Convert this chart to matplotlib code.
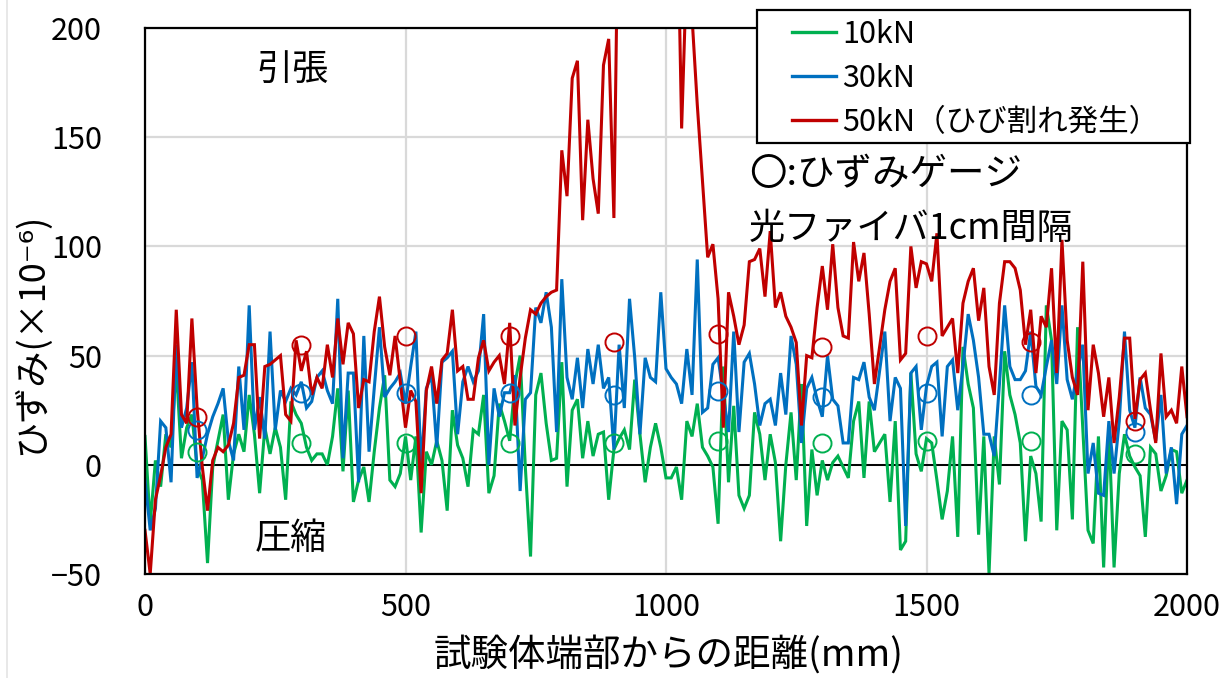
import matplotlib
matplotlib.use("Agg")
import matplotlib.pyplot as plt
from matplotlib.lines import Line2D
from matplotlib.patches import Rectangle

plt.rcParams['font.family'] = ['Noto Sans CJK JP', 'DejaVu Sans']

# Distance from specimen end, 1 cm fibre pitch
distance_mm = list(range(0, 2001, 10))

strain_10kN = [
    13, -27, 2, -10, 14, 8, 45, 3, 17, 23, -1, -7, -45, -1, 11, 23, -16, 5, 14, 6,
    32, 14, -13, 17, 5, 17, 8, -16, 29, 23, 19, 8, 2, 5,
    5, 0, 13, 35, -3, 34, -17, -7, -1, -17, 6, 26, 41, -7, -10, -4, 13, -7, 13, -31,
    6, 0, 11, 2, -21, 25, 9, 3, -10, 16, 14, 32, -13, -5,
    28, 20, 11, 37, 50, -1, -42, 32, 42, 19, 2, 3, 47, -10, 25, 30, 3, 20, 4, 14,
    15, -16, 7, 12, 16, 7, 39, 14, -8, 8, 19, 8, -6,
    -6, -1, -16, 20, 13, 28, 8, 4, -1, -27, 45, -8, 27, -14, -20, -14, 24, 14, -7, 14,
    1, -35, 0, 24, -7, 37, -28, 7, -14, 2, -7, 1, 4, -1,
    -6, 20, 29, -6, 29, 6, 10, 14, -17, 20, -39, -35, 42, 5, -3, 12, 10, -7, -25, -12,
    13, -33, 54, 37, 26, -32, 13, -50, 13, -9, 52, 32, 23,
    10, -35, 4, -4, -26, 73, 57, -30, 20, 16, -25, 63, 16, -30, -36, 13, -47, 17, -47, -4,
    14, 4, -1, -5, -33, 8, 5, -12, -5, 7, 6, -13, -7,
]

strain_30kN = [
    -7, -30, -20, 20, 17, -8, 55, 17, 26, 47, -6, 3, 14, 22, 28, 35, 11, 2, 45, 16,
    73, 16, 31, 12, 61, 16, 34, 29, 35, 32, 38, 26, 29, 40,
    43, 34, 28, 76, 3, 42, 42, -8, 59, 6, 35, 63, 31, 35, 38, 42, 28, 45, 61, -1,
    35, 41, 8, 47, 49, 52, 14, 38, 45, 38, 43, 69, 0, 35,
    22, 33, 33, 41, -12, 30, 33, 72, 65, 79, 63, 15, 85, 40, 30, 49, 26, 53, 37, 55,
    35, 40, 7, 55, 26, 76, 49, 14, 49, 40, 38, 79, 44,
    40, 37, 28, 53, 32, 94, 24, 26, 46, 49, 32, 15, 61, 15, 47, 51, 37, 18, 28, 30,
    18, 42, 23, 59, 46, 10, 35, 40, 30, 22, 50, 30, 27, 10,
    10, 40, 39, 47, 31, 25, 43, 61, 20, 40, 35, -28, 42, 45, 16, 36, 45, 47, 13, 45,
    48, 25, 45, 69, 57, 40, 14, 14, 4, 37, 73, 45, 39,
    39, 43, 61, 36, 32, 45, 57, 37, 73, 39, 30, 43, 55, -4, 10, -13, -14, 20, -4, 20,
    61, 25, 17, 40, 26, 23, 11, 32, -4, 8, -18, 14, 18,
]

strain_50kN = [
    -30, -50, -16, -5, 8, 14, 71, 23, 19, 67, 26, -1, -21, 2, 8, 6, 9, 19, 40, 41,
    55, 55, 12, 45, 46, 48, 50, 23, 20, 57, 43, 52, 32, 40,
    35, 55, 40, 67, 46, 65, 60, 26, 39, 38, 61, 77, 54, 41, 59, 38, 17, 34, 29, -13,
    34, 45, 28, 48, 51, 71, 43, 45, 30, 30, 49, 57, 43, 47,
    50, 37, 65, 18, 40, 58, 71, 69, 74, 77, 79, 80, 144, 123, 177, 185, 112, 158, 131, 115,
    183, 195, 113, 290, 320, 300, 330, 310, 320, 300, 310, 290, 300,
    290, 280, 154, 230, 205, 165, 130, 95, 101, 76, 17, 79, 68, 55, 64, 93, 94, 99, 77, 107,
    72, 79, 68, 63, 56, 18, 50, 49, 72, 91, 71, 101, 72, 59,
    58, 102, 84, 97, 69, 37, 54, 71, 84, 90, 48, 51, 100, 81, 93, 92, 84, 106, 59, 63,
    67, 42, 74, 84, 90, 66, 81, 45, 32, 74, 93, 93, 90,
    80, 55, 71, 42, 68, 63, 90, 42, 103, 57, 40, 32, 93, 25, 55, 42, 22, 40, 10, 31,
    58, 58, 21, 39, 42, 25, 10, 51, 22, 25, 19, 45, 22,
]

# Strain gauge readings
gauge_mm = [100, 300, 500, 700, 900, 1100, 1300, 1500, 1700, 1900]
gauge_10kN = [6, 10, 10, 10, 10, 11, 10, 11, 11, 5]
gauge_30kN = [16, 33, 33, 33, 32, 34, 31, 33, 32, 15]
gauge_50kN = [22, 55, 59, 59, 56, 60, 54, 59, 56, 20]

series_labels = ['10kN', '30kN', '50kN（ひび割れ発生）']
colors = ['#00B050', '#0070C0', '#C00000']

x_ticks = [0, 500, 1000, 1500, 2000]
y_ticks = [-50, 0, 50, 100, 150, 200]

W, H = 1231, 678
fig = plt.figure(figsize=(W / 100, H / 100), dpi=100)
ax = fig.add_axes([145 / W, 1 - 574 / H, (1187 - 145) / W, (574 - 28) / H])

ax.set_xlim(0, 2000)
ax.set_ylim(-50, 200)
ax.set_xticks(x_ticks)
ax.set_yticks(y_ticks)
ax.grid(True, color='#d9d9d9', linewidth=1.6, zorder=0)
ax.set_axisbelow(True)
ax.axhline(0, color='black', linewidth=1.4, zorder=1)

for vals, col, lab in zip([strain_10kN, strain_30kN, strain_50kN], colors, series_labels):
    ax.plot(distance_mm, vals, color=col, linewidth=2.2, label=lab, zorder=2,
            solid_joinstyle='miter')

for vals, col in zip([gauge_10kN, gauge_30kN, gauge_50kN], colors):
    ax.plot(gauge_mm, vals, linestyle='none', marker='o', markersize=13,
            markerfacecolor='none', markeredgecolor=col, markeredgewidth=1.4, zorder=3)

for sp in ax.spines.values():
    sp.set_color('black')
    sp.set_linewidth(1.6)

ax.tick_params(axis='both', length=0, labelsize=22)
ax.tick_params(axis='x', pad=13)
ax.tick_params(axis='y', pad=31)

ax.text(283, 181, '引張', fontsize=26, ha='center', va='center')
ax.text(280, -34, '圧縮', fontsize=26, ha='center', va='center')
ax.text(1159, 133, '〇:ひずみゲージ', fontsize=27, ha='left', va='center')
ax.text(1159, 108, '光ファイバ1cm間隔', fontsize=26, ha='left', va='center')

fig.text(31 / W, 1 - 334 / H, 'ひずみ(×10⁻⁶)', rotation=90, fontsize=26,
         ha='center', va='center')
fig.text(669 / W, 1 - 655 / H, '試験体端部からの距離(mm)', fontsize=27,
         ha='center', va='center')

# Legend: frame drawn as a box, entries placed inside it
fig.add_artist(Rectangle((757 / W, 1 - 143 / H), (1190 - 757) / W, (143 - 10) / H,
                         transform=fig.transFigure, facecolor='white',
                         edgecolor='black', linewidth=1.6, zorder=5))
handles = [Line2D([], [], color=c, linewidth=2.4) for c in colors]
leg = fig.legend(handles, series_labels, loc='upper left',
                 bbox_to_anchor=(792 / W, 1 - 19 / H), fontsize=22,
                 frameon=False, borderpad=0, labelspacing=0.42,
                 handlelength=1.45, handletextpad=0.2, borderaxespad=0)
leg.set_zorder(6)

fig.add_artist(Line2D([7 / W, 7 / W], [0, 1], color='#e4e4e4', linewidth=1.2,
                      transform=fig.transFigure))

fig.savefig('out.png', dpi=100)
